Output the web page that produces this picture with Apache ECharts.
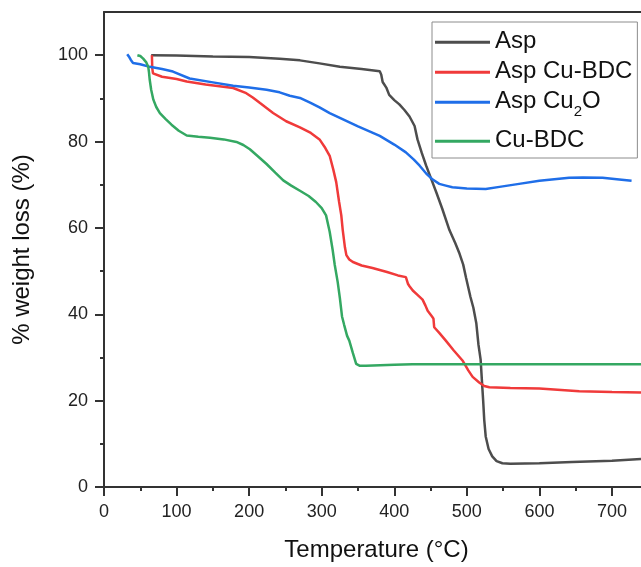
<!DOCTYPE html>
<html>
<head>
<meta charset="utf-8">
<script src="https://cdn.jsdelivr.net/npm/echarts@6/dist/echarts.min.js"></script>
<style>
html,body{margin:0;padding:0;background:#fff;}
#c{width:641px;height:567px;}
</style>
</head>
<body>
<div id="c"></div>
<script>
// ---- data: [temperature °C, weight %] ----
var seriesNames = ['Asp', 'Asp Cu-BDC', 'Asp Cu2O', 'Cu-BDC'];
var xTicks = [0, 100, 200, 300, 400, 500, 600, 700];
var yTicks = [0, 20, 40, 60, 80, 100];

var aspData = [[65,100],[100,99.9],[150,99.7],[200,99.6],[242,99.2],[270,98.8],[297,98.1],[325,97.3],[355,96.8],[380,96.3],[382,95.5],[384,93.8],[389,92.5],[393,90.8],[400,89.6],[407,88.6],[414,87.3],[421,85.8],[428,83.6],[432,80.5],[438,77.3],[444,74.4],[451,71.3],[458,68.2],[466,64.5],[476,59.5],[484,56.5],[490,54],[495,51.5],[499,48.4],[505,44],[509,41.5],[513,38],[516,33],[519,29.5],[521,24],[522.5,20],[524,15.5],[526,11.7],[530,8.8],[535,7.1],[541,6],[549,5.5],[560,5.4],[600,5.5],[645,5.8],[700,6.1],[740,6.5]];

var aspCuBdcData = [[66,100],[66.5,97],[67.5,95.8],[80,95],[100,94.5],[114,93.9],[140,93.2],[178,92.4],[196,91.2],[205,90.2],[215,88.9],[233,86.6],[251,84.7],[270,83.3],[285,82],[297,80.5],[305,78.5],[311,76.7],[316,73.5],[320,70.6],[324,66],[327,62.9],[329,59.5],[332,55.5],[334,53.7],[338,52.7],[343,52.1],[355,51.3],[370,50.7],[390,49.8],[405,49],[416,48.6],[419,47],[421,46.5],[425.5,45.5],[432,44.5],[439,43.4],[443,42],[446,40.8],[452,39.5],[454,39],[455,37],[462,35.7],[471,33.9],[482,31.6],[494,29.3],[502,27],[508,25.5],[517,24.2],[524,23.4],[531,23.1],[560,22.9],[600,22.8],[655,22.2],[700,22],[740,21.9]];

var aspCu2oData = [[32,100.2],[35,99.5],[37,98.9],[40,98.2],[50,97.9],[63,97.3],[80,96.8],[95,96.2],[118,94.6],[150,93.7],[178,92.9],[200,92.5],[224,92.0],[242,91.4],[256,90.6],[270,90.1],[284,89],[297,87.9],[311,86.6],[325,85.5],[350,83.5],[380,81.3],[400,79.3],[416,77.5],[427,75.8],[435,74.4],[444,72.6],[453,71.2],[462,70.2],[471,69.8],[480,69.4],[500,69.1],[526,69.0],[545,69.5],[572,70.2],[600,70.9],[641,71.6],[660,71.7],[687,71.6],[710,71.2],[727,70.9]];

var cuBdcData = [[46,100],[50,99.8],[54,99.2],[58,98.4],[61,97.3],[62,96],[63,94.3],[65,92],[68,89.7],[72,88],[77,86.6],[85,85.2],[93,83.9],[103,82.5],[114,81.4],[130,81.1],[146,80.9],[165,80.5],[182.5,79.9],[192,79.2],[201,78.2],[212,76.6],[224,74.8],[236,72.8],[247,71],[258,69.8],[270,68.6],[282,67.4],[292,66],[300,64.6],[306,62.9],[311,59.1],[315,55],[318,51.4],[322,47.5],[325,43.8],[328,39.5],[331,37.5],[335,35],[338,33.9],[343,31],[347.5,28.5],[352,28.1],[361,28.1],[400,28.3],[425,28.4],[500,28.4],[600,28.4],[700,28.4],[740,28.4]];

var colors = ['#4d4d4d', '#f03a3a', '#1f6ee8', '#34a862'];
var allData = [aspData, aspCuBdcData, aspCu2oData, cuBdcData];

var FONT = 'Liberation Sans, Arial, sans-serif';
var axisColor = '#333333';

var chart = echarts.init(document.getElementById('c'), null, {renderer: 'canvas'});

var series = seriesNames.map(function (n, i) {
  return {
    name: n,
    type: 'line',
    data: allData[i],
    showSymbol: false,
    symbol: 'none',
    smooth: false,
    color: colors[i],
    lineStyle: {width: 2.5, color: colors[i]},
    z: 2
  };
});

chart.setOption({
  animation: false,
  backgroundColor: '#ffffff',
  grid: {left: 104, top: 12, width: 538, height: 479, containLabel: false},
  legend: {
    data: seriesNames,
    orient: 'vertical',
    left: 432,
    top: 22,
    padding: [6, 5, 1, 3],
    itemGap: 0,
    itemWidth: 55,
    itemHeight: 3,
    icon: 'rect',
    borderColor: '#8c8c8c',
    borderWidth: 1,
    backgroundColor: '#ffffff',
    formatter: function (name) {
      if (name === 'Asp Cu2O') return '{a|Asp Cu}{s|2}{a|O}';
      return '{a|' + name + '}';
    },
    textStyle: {
      fontFamily: FONT,
      fontSize: 24,
      lineHeight: 34.3,
      color: '#111111',
      rich: {
        a: {fontFamily: FONT, fontSize: 24, lineHeight: 28.3, color: '#111111', verticalAlign: 'top', padding: [1, 0, 5, 0]},
        s: {fontFamily: FONT, fontSize: 15, lineHeight: 15, color: '#111111', verticalAlign: 'top', padding: [16, 0, 8, 0]}
      }
    }
  },
  xAxis: [{
    type: 'value',
    position: 'bottom',
    min: 0,
    max: 740,
    interval: 100,
    name: 'Temperature (\u00B0C)',
    nameLocation: 'middle',
    nameGap: 51,
    nameTextStyle: {fontFamily: FONT, fontSize: 24, color: '#111111', padding: [0, 0, 0, 8]},
    axisLine: {show: true, onZero: false, lineStyle: {color: axisColor, width: 2}},
    axisTick: {show: true, length: 9, lineStyle: {color: axisColor, width: 2}, customValues: xTicks},
    minorTick: {show: true, splitNumber: 2, length: 4, lineStyle: {color: axisColor, width: 2}},
    splitLine: {show: false},
    axisLabel: {fontFamily: FONT, fontSize: 18, color: '#222222', margin: 16, customValues: xTicks}
  }, {
    type: 'value',
    position: 'top',
    min: 0,
    max: 740,
    interval: 100,
    axisLine: {show: true, onZero: false, lineStyle: {color: axisColor, width: 2}},
    axisTick: {show: false},
    axisLabel: {show: false},
    splitLine: {show: false}
  }],
  yAxis: {
    type: 'value',
    min: 0,
    max: 110,
    interval: 20,
    name: '% weight loss (%)',
    nameLocation: 'middle',
    nameGap: 70,
    nameTextStyle: {fontFamily: FONT, fontSize: 24, color: '#111111'},
    axisLine: {show: true, onZero: false, lineStyle: {color: axisColor, width: 2}},
    axisTick: {show: true, length: 9, lineStyle: {color: axisColor, width: 2}, customValues: yTicks},
    minorTick: {show: true, splitNumber: 2, length: 4, lineStyle: {color: axisColor, width: 2}},
    splitLine: {show: false},
    axisLabel: {fontFamily: FONT, fontSize: 18, color: '#222222', margin: 16, customValues: yTicks}
  },
  series: series
});
</script>
</body>
</html>
